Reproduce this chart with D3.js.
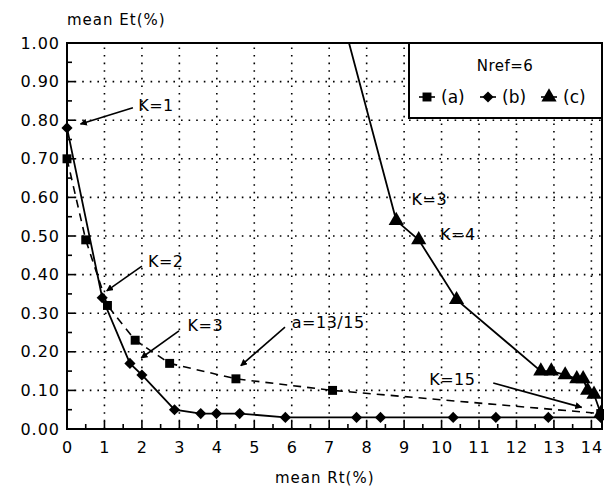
<!DOCTYPE html>
<html>
<head>
<meta charset="utf-8">
<script src="https://cdn.jsdelivr.net/npm/d3@7"></script>
<style>
  body { margin: 0; background: #fff; }
  text { font-family: "DejaVu Sans", sans-serif; fill: #000; }
</style>
</head>
<body>
<div id="chart"></div>
<script>
// data (mean Rt %, mean Et %)
var seriesA_x = [0, 0.5, 1.08, 1.82, 2.74, 4.51, 7.09, 14.25];
var seriesA_y = [0.70, 0.49, 0.32, 0.23, 0.17, 0.13, 0.10, 0.04];

var seriesB_x = [0, 0.94, 1.68, 2.0, 2.87, 3.57, 3.99, 4.61, 5.83, 7.73, 8.37, 10.31, 11.45, 12.85, 14.25];
var seriesB_y = [0.78, 0.34, 0.17, 0.14, 0.05, 0.04, 0.04, 0.04, 0.03, 0.03, 0.03, 0.03, 0.03, 0.03, 0.03];

var seriesC_x = [7.2, 8.79, 9.39, 10.40, 12.65, 12.93, 13.30, 13.61, 13.78, 13.90, 14.07, 14.25];
var seriesC_y = [1.12, 0.54, 0.49, 0.335, 0.15, 0.15, 0.14, 0.13, 0.13, 0.10, 0.09, 0.04];

var xTicks = [0, 1, 2, 3, 4, 5, 6, 7, 8, 9, 10, 11, 12, 13, 14];
var yTicks = [0, 0.1, 0.2, 0.3, 0.4, 0.5, 0.6, 0.7, 0.8, 0.9, 1.0];

var legendTitle = "Nref=6";
var legendNames = ["(a)", "(b)", "(c)"];

// annotation labels: text, text pos, arrow from, arrow to (data units)
var noteText = ["K=1", "K=2", "K=3", "a=13/15", "K=3", "K=4", "K=15"];
var notePos = [[1.9, 0.825], [2.16, 0.42], [3.22, 0.255], [6.0, 0.262], [9.2, 0.58], [9.96, 0.49], [9.67, 0.115]];
var noteArrow = [
  [[1.76, 0.832], [0.36, 0.79]],
  [[2.0, 0.422], [1.06, 0.358]],
  [[2.99, 0.254], [1.98, 0.184]],
  [[5.82, 0.264], [4.64, 0.164]],
  null,
  null,
  [[11.38, 0.119], [13.74, 0.056]]
];

var svgWidth = 604;
var svgHeight = 492;

var svg = d3.select("#chart")
  .append("svg")
  .attr("width", svgWidth)
  .attr("height", svgHeight);

var x = d3.scaleLinear().domain([0, 14.31]).range([67, 603]);
var y = d3.scaleLinear().domain([0, 1]).range([429, 43]);

function zip(xs, ys) {
  return xs.map(function(v, i) { return { x: v, y: ys[i] }; });
}
var dataA = zip(seriesA_x, seriesA_y);
var dataB = zip(seriesB_x, seriesB_y);
var dataC = zip(seriesC_x, seriesC_y);

svg.append("defs").append("clipPath")
  .attr("id", "plotClip")
  .append("rect")
  .attr("x", x(0) - 2).attr("y", y(1))
  .attr("width", x(14.31) - x(0) + 4).attr("height", y(0) - y(1) + 2);

svg.select("defs").append("marker")
  .attr("id", "arrow")
  .attr("viewBox", "0 0 10 10")
  .attr("refX", 9).attr("refY", 5)
  .attr("markerWidth", 7).attr("markerHeight", 7)
  .attr("markerUnits", "userSpaceOnUse")
  .attr("orient", "auto")
  .append("path")
  .attr("d", "M0,0 L10,5 L0,10 Z")
  .attr("fill", "#000");

// dotted grid
svg.append("g").selectAll("line")
  .data(xTicks.filter(function(d) { return d > 0; }))
  .enter().append("line")
  .attr("x1", d => x(d)).attr("x2", d => x(d))
  .attr("y1", y(0)).attr("y2", y(1))
  .attr("stroke", "#000").attr("stroke-width", 1.6)
  .attr("stroke-dasharray", "1.6,6");

svg.append("g").selectAll("line")
  .data(yTicks.filter(function(d) { return d > 0 && d < 1; }))
  .enter().append("line")
  .attr("x1", x(0)).attr("x2", x(14.31))
  .attr("y1", d => y(d)).attr("y2", d => y(d))
  .attr("stroke", "#000").attr("stroke-width", 1.6)
  .attr("stroke-dasharray", "1.6,6");

// axes with inside ticks
var bottomAxis = d3.axisBottom(x).tickValues(xTicks).tickSize(0).tickPadding(10).tickFormat(d3.format("d"));
var leftAxis = d3.axisLeft(y).tickValues(yTicks).tickSize(0).tickPadding(7).tickFormat(d3.format(".2f"));

var gx = svg.append("g").attr("transform", `translate(0, ${y(0)})`).call(bottomAxis);
var gy = svg.append("g").attr("transform", `translate(${x(0)}, 0)`).call(leftAxis);
gx.select(".domain").remove();
gy.select(".domain").remove();
gx.selectAll("text").attr("font-size", 16).attr("letter-spacing", 1).attr("dy", "0.85em");
gy.selectAll("text").attr("font-size", 16).attr("letter-spacing", 1);

// minor/major tick marks pointing into the plot
var xMinor = d3.range(0, 14.31, 0.5);
svg.append("g").selectAll("line")
  .data(xMinor)
  .enter().append("line")
  .attr("x1", d => x(d)).attr("x2", d => x(d))
  .attr("y1", y(0)).attr("y2", d => y(0) - (d % 1 === 0 ? 8 : 5))
  .attr("stroke", "#000").attr("stroke-width", 1.6);

var yMinor = d3.range(0, 1.001, 0.05);
svg.append("g").selectAll("line")
  .data(yMinor)
  .enter().append("line")
  .attr("x1", x(0)).attr("x2", d => x(0) + (Math.round(d * 100) % 10 === 0 ? 8 : 5))
  .attr("y1", d => y(d)).attr("y2", d => y(d))
  .attr("stroke", "#000").attr("stroke-width", 1.6);

// frame
svg.append("rect")
  .attr("x", x(0)).attr("y", y(1))
  .attr("width", x(14.31) - x(0) - 1).attr("height", y(0) - y(1))
  .attr("fill", "none").attr("stroke", "#000").attr("stroke-width", 2);

// lines
var line = d3.line().x(d => x(d.x)).y(d => y(d.y));
var plot = svg.append("g").attr("clip-path", "url(#plotClip)");

plot.append("path").datum(dataA).attr("d", line)
  .attr("fill", "none").attr("stroke", "#000").attr("stroke-width", 1.6)
  .attr("stroke-dasharray", "8,6");
plot.append("path").datum(dataB).attr("d", line)
  .attr("fill", "none").attr("stroke", "#000").attr("stroke-width", 1.8);
plot.append("path").datum(dataC).attr("d", line)
  .attr("fill", "none").attr("stroke", "#000").attr("stroke-width", 1.8);

// markers (diamond = square turned 45deg, as wide as it is tall)
var sq = d3.symbol().type(d3.symbolSquare).size(80);
var dia = d3.symbol().type(d3.symbolSquare).size(62);
var tri = d3.symbol().type(d3.symbolTriangle).size(100);
var rot = [0, 45, 0];

function drawMarks(data, sym, r) {
  svg.append("g").selectAll("path")
    .data(data.filter(function(d) { return d.y <= 1; }))
    .enter().append("path")
    .attr("d", sym)
    .attr("transform", d => `translate(${x(d.x)}, ${y(d.y)}) rotate(${r})`)
    .attr("fill", "#000");
}
drawMarks(dataA, sq, rot[0]);
drawMarks(dataB, dia, rot[1]);
drawMarks(dataC, tri, rot[2]);

// annotations
noteText.forEach(function(t, i) {
  svg.append("text")
    .attr("x", x(notePos[i][0])).attr("y", y(notePos[i][1]))
    .attr("font-size", 16).attr("letter-spacing", 0.5)
    .text(t);
  if (noteArrow[i]) {
    svg.append("line")
      .attr("x1", x(noteArrow[i][0][0])).attr("y1", y(noteArrow[i][0][1]))
      .attr("x2", x(noteArrow[i][1][0])).attr("y2", y(noteArrow[i][1][1]))
      .attr("stroke", "#000").attr("stroke-width", 1.6)
      .attr("marker-end", "url(#arrow)");
  }
});

// legend box
var legend = svg.append("g").attr("transform", "translate(409, 43)");
legend.append("rect")
  .attr("width", 193).attr("height", 75)
  .attr("fill", "#fff").attr("stroke", "#000").attr("stroke-width", 2);
legend.append("text")
  .attr("x", 96).attr("y", 28)
  .attr("text-anchor", "middle").attr("font-size", 15).attr("letter-spacing", 0.5)
  .text(legendTitle);

var legSyms = [sq, dia, tri];
legendNames.forEach(function(name, i) {
  var lx = 18 + i * 61;
  legend.append("line")
    .attr("x1", lx - 8).attr("x2", lx + 8)
    .attr("y1", 54).attr("y2", 54)
    .attr("stroke", "#000").attr("stroke-width", 1.6);
  legend.append("path")
    .attr("d", legSyms[i])
    .attr("transform", `translate(${lx}, 54) rotate(${rot[i]})`)
    .attr("fill", "#000");
  legend.append("text")
    .attr("x", lx + 14).attr("y", 60)
    .attr("font-size", 17)
    .text(name);
});

// axis titles
svg.append("text")
  .attr("x", 67).attr("y", 25)
  .attr("font-size", 15).attr("letter-spacing", 1)
  .text("mean Et(%)");

svg.append("text")
  .attr("x", 275).attr("y", 483)
  .attr("font-size", 15).attr("letter-spacing", 1)
  .text("mean Rt(%)");
</script>
</body>
</html>
